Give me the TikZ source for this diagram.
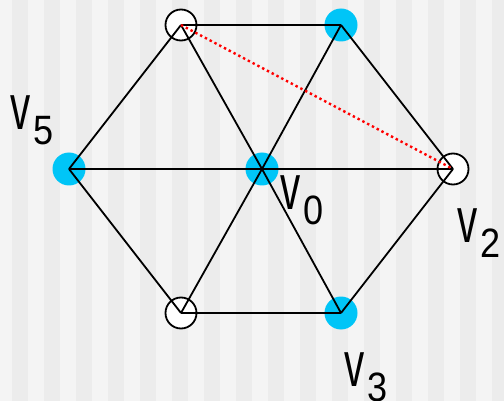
\documentclass[tikz,border=0pt]{standalone}
\usepackage{fontspec}
\setmainfont{Liberation Sans}
\usepackage{tikz}
\usetikzlibrary{positioning}

\definecolor{stripelight}{HTML}{F4F4F4}
\definecolor{stripedark}{HTML}{ECECEC}
\definecolor{vertexblue}{HTML}{00C5F7}

% vertex label: condensed v with a lowered index
\newcommand{\vlabel}[1]{%
  \fontsize{64}{64}\selectfont\scalebox{0.63}[1]{v}\kern3pt%
  \raisebox{-15pt}{\fontsize{41}{41}\selectfont\scalebox{0.88}[1]{#1}}}

\begin{document}
\begin{tikzpicture}[
    x=1pt, y=-1pt,
    filled/.style={circle, fill=vertexblue, minimum size=33pt, inner sep=0pt},
    hollow/.style={circle, draw, line width=1.8pt, fill=white, minimum size=31pt, inner sep=0pt},
    edge/.style={line width=1.8pt, black},
    hint/.style={line width=2.4pt, red, dash pattern=on 2.4pt off 3pt},
    lbl/.style={inner sep=0pt, anchor=center}
]
\useasboundingbox (0,0) rectangle (504,401);
\clip (0,0) rectangle (504,401);

% striped background
\fill[stripelight] (0,0) rectangle (504,401);
\foreach \k in {0,...,15}
    \fill[stripedark] ({12+32*\k},0) rectangle ++(16,401);

% vertices
\node[filled] (v0) at (262,169) {};
\node[filled] (v1) at (341,25)  {};
\node[hollow] (v2) at (453,169) {};
\node[filled] (v3) at (341,313) {};
\node[hollow] (v4) at (181,313) {};
\node[filled] (v5) at (69,169)  {};
\node[hollow] (v6) at (181,25)  {};

% rim and spokes
\foreach \a/\b in {v1/v2, v2/v3, v3/v4, v4/v5, v5/v6, v6/v1}
    \draw[edge] (\a.center) -- (\b.center);
\foreach \b in {v1, v2, v3, v4, v5, v6}
    \draw[edge] (v0.center) -- (\b.center);

\draw[hint] (v6.center) -- (v2.center);

% labels
\node[lbl] (l0) at (302,200) {\vlabel{0}};
\node[lbl] (l2) at (479,233) {\vlabel{2}};
\node[lbl] (l3) at (366,377) {\vlabel{3}};
\node[lbl] (l5) at (32,120)  {\vlabel{5}};
\end{tikzpicture}
\end{document}
